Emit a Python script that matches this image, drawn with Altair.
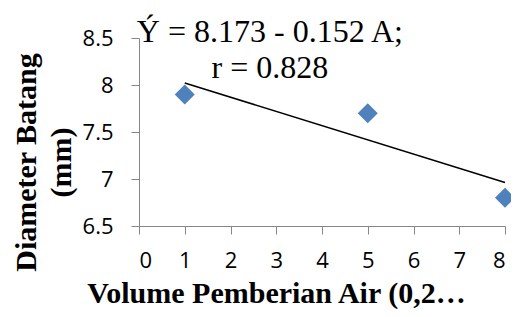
import altair as alt
import pandas as pd

volume = [1, 5, 8]
diameter = [7.9, 7.7, 6.8]

x_ticks = [0, 1, 2, 3, 4, 5, 6, 7, 8]
y_ticks = [6.5, 7, 7.5, 8, 8.5]

eq_text = ["Ý = 8.173 - 0.152 A;", "r = 0.828"]
eq_x = [2.86, 2.86]
eq_y = [8.457, 8.074]

df = pd.DataFrame({"x": volume, "y": diameter})
ann = pd.DataFrame({"t": eq_text, "x": eq_x, "y": eq_y})

AX = "#868686"
xs = alt.Scale(domain=[0, 8], nice=False, zero=False)
ys = alt.Scale(domain=[6.5, 8.5], nice=False, zero=False)

x_axis = alt.Axis(
    values=x_ticks, grid=False, domainColor=AX, tickColor=AX, tickSize=8,
    labelFont="Open Sans", labelFontSize=22, labelColor="black", labelPadding=16,
    title="Volume Pemberian Air (0,2…", titleFont="Liberation Serif",
    titleFontWeight="bold", titleFontSize=30, titleColor="black",
    titleX=137, titleY=76, titleAlign="center", titleBaseline="alphabetic",
)
y_axis = alt.Axis(
    values=y_ticks, format="~g", grid=False, domainColor=AX, tickColor=AX, tickSize=8,
    labelFont="Open Sans", labelFontSize=22, labelColor="black", labelPadding=18,
    title=["Diameter Batang", "(mm)"], titleFont="Liberation Serif",
    titleFontWeight="bold", titleFontSize=30, titleColor="black",
    titleX=-104, titleY=124, titleAlign="center", titleBaseline="alphabetic",
    titleLineHeight=35, titleAngle=270,
)

points = alt.Chart(df).mark_point(
    shape="diamond", filled=True, size=400, color="#4F81BD", opacity=1
).encode(
    x=alt.X("x:Q", scale=xs, axis=x_axis),
    y=alt.Y("y:Q", scale=ys, axis=y_axis),
)

trend = alt.Chart(df).transform_regression(
    "x", "y", extent=[1, 8]
).mark_line(color="black", strokeWidth=1.5).encode(
    x=alt.X("x:Q", scale=xs),
    y=alt.Y("y:Q", scale=ys),
)

text = alt.Chart(ann).mark_text(
    font="Liberation Serif", fontSize=32, color="black",
    align="center", baseline="alphabetic", clip=False
).encode(
    x=alt.X("x:Q", scale=xs),
    y=alt.Y("y:Q", scale=ys),
    text="t:N",
)

chart = alt.layer(trend, points, text).properties(
    width=366, height=188,
    autosize=alt.AutoSizeParams(type="none"),
    padding={"left": 131, "top": 30, "right": 6, "bottom": 83},
).configure_view(stroke=None)

chart.save("out.html", embed_options={"renderer": "svg", "actions": False})
